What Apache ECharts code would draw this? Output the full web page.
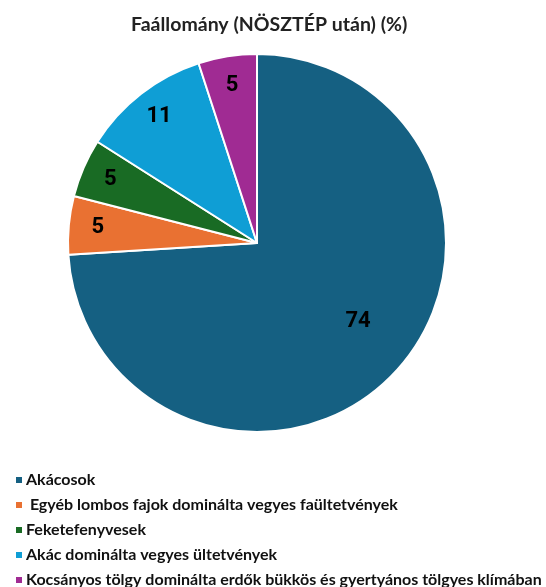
<!DOCTYPE html>
<html><head><meta charset="utf-8">
<script src="https://cdn.jsdelivr.net/npm/echarts@6/dist/echarts.min.js"></script>
<style>html,body{margin:0;padding:0;background:#fff}#c{width:546px;height:587px}</style>
</head><body><div id="c"></div>
<script>
const titleText = 'Faállomány (NÖSZTÉP után) (%)';
const categories = ['Akácosok', ' Egyéb lombos fajok dominálta vegyes faültetvények', 'Feketefenyvesek', 'Akác dominálta vegyes ültetvények', 'Kocsányos tölgy dominálta erdők bükkös és gyertyános tölgyes klímában'];
const values = [74, 5, 5, 11, 5];
const colors = ['#156082', '#e97132', '#196b24', '#0f9ed5', '#a02b93'];

const chart = echarts.init(document.getElementById('c'), null, {renderer: 'canvas'});
const center = [257, 243];
const R = 189;
const mkData = (showFn) => categories.map((n, i) => ({
  name: n, value: values[i],
  label: {show: showFn(i)}
}));
const labelStyle = {position: 'inside', color: '#000', fontSize: 22, fontFamily: 'Roboto', fontWeight: 'bold', formatter: '{c}'};
chart.setOption({
  color: colors,
  animation: false,
  title: {text: titleText, left: 126, top: 10, textStyle: {fontFamily: 'Lato', fontWeight: 'bold', fontSize: 19.5, color: '#222'}},
  legend: {
    orient: 'vertical', left: 9, top: 467, height: 300, itemWidth: 8, itemHeight: 8, itemGap: 9, icon: 'rect',
    textStyle: {fontFamily: 'Lato', fontWeight: 'bold', fontSize: 16, color: '#111', padding: [0,0,0,-2]},
    data: categories
  },
  series: [
    {type: 'pie', center, radius: [0, R], startAngle: 90, clockwise: true,
     itemStyle: {borderColor: '#fff', borderWidth: 2}, label: {show: false}, labelLine: {show: false},
     emphasis: {disabled: true},
     data: categories.map((n, i) => ({name: n, value: values[i]}))},
    {type: 'pie', center, radius: [R * 0.32, R], startAngle: 90, silent: true, legendHoverLink: false,
     itemStyle: {color: 'transparent'}, label: Object.assign({}, labelStyle, {offset: [8, -9]}), labelLine: {show: false}, emphasis: {disabled: true},
     data: mkData(i => i === 0)},
    {type: 'pie', center, radius: [R * 0.66, R], startAngle: 90, silent: true, legendHoverLink: false,
     itemStyle: {color: 'transparent'}, label: labelStyle, labelLine: {show: false}, emphasis: {disabled: true},
     data: mkData(i => i !== 0)}
  ]
});
</script></body></html>
